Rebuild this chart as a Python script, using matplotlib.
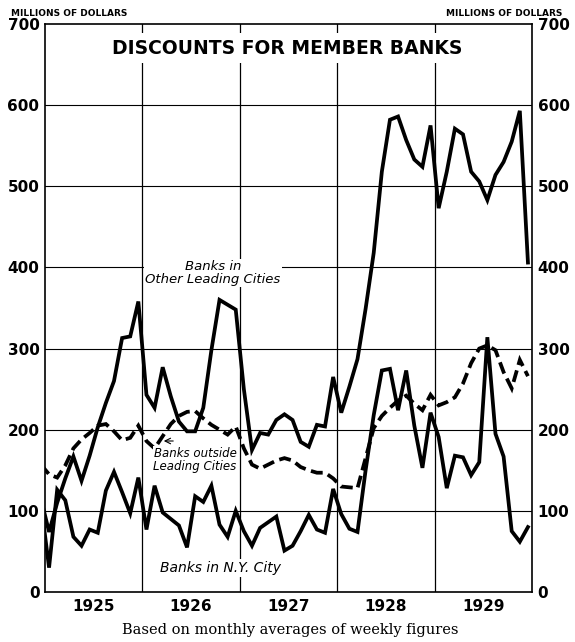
import matplotlib
matplotlib.use('Agg')
import matplotlib.pyplot as plt
import numpy as np

years = [1925, 1926, 1927, 1928, 1929]
y_ticks = [0, 100, 200, 300, 400, 500, 600, 700]

# Monthly values, millions of dollars. First entry = Dec 1924 (only partly visible
# at the left edge), then Jan 1925 ... Dec 1929.
ny_city = [110,
           30, 126, 113, 68, 57, 77, 73, 125, 148, 123, 97, 141,
           77, 131, 98, 90, 82, 55, 118, 111, 131, 83, 68, 100,
           75, 57, 79, 86, 93, 51, 57, 75, 95, 77, 73, 127,
           96, 78, 74, 150, 218, 273, 275, 224, 273, 205, 153, 221,
           191, 128, 168, 166, 144, 160, 314, 195, 167, 75, 62, 80]
other_leading = [115,
                 74, 110, 140, 167, 137, 168, 203, 233, 260, 313, 315, 358,
                 243, 227, 277, 241, 210, 198, 198, 227, 298, 360, 354, 348,
                 250, 175, 196, 194, 212, 219, 212, 185, 179, 206, 204, 265,
                 221, 253, 287, 349, 418, 518, 582, 586, 557, 533, 524, 575,
                 473, 518, 571, 564, 518, 506, 483, 514, 530, 555, 593, 406]
outside_leading = [157,
                   145, 141, 156, 177, 188, 196, 205, 207, 198, 187, 190, 205,
                   186, 177, 192, 207, 217, 222, 223, 214, 206, 200, 194, 204,
                   177, 157, 152, 157, 162, 165, 162, 154, 150, 147, 147, 140,
                   130, 129, 128, 165, 202, 217, 227, 236, 242, 232, 224, 243,
                   230, 234, 240, 257, 282, 300, 304, 298, 271, 251, 286, 266]

months = np.arange(-1, 60) + 0.5  # month centres, 0 = start of 1925

W, H = 575, 642
fig = plt.figure(figsize=(W / 100, H / 100), dpi=100)
L, R, T, B = 45, 532, 24, 592
ax = fig.add_axes([L / W, 1 - B / H, (R - L) / W, (B - T) / H])
ax.set_xlim(0, 60)
ax.set_ylim(0, 700)

for yv in y_ticks[1:-1]:
    ax.axhline(yv, color='black', lw=0.8, zorder=1)
for k in range(1, len(years)):
    ax.axvline(12 * k, color='black', lw=0.9, zorder=1)

line_kw = dict(color='black', lw=2.7, solid_joinstyle='miter', zorder=3)
ax.plot(months, other_leading, **line_kw)
ax.plot(months, ny_city, **line_kw)
ax.plot(months, outside_leading, color='black', lw=2.7, ls=(0, (3.2, 1.5)),
        dash_joinstyle='miter', zorder=3)

ax.set_yticks(y_ticks)
ax.set_yticklabels([str(v) for v in y_ticks])
ax.tick_params(axis='y', length=0, labelleft=True, labelright=True,
               labelsize=11, pad=4)
ax.set_xticks([12 * k + 6 for k in range(len(years))])
ax.set_xticklabels([str(y) for y in years])
ax.tick_params(axis='x', length=0, labelsize=11, pad=5)
for lab in ax.get_yticklabels() + ax.get_xticklabels():
    lab.set_fontweight('bold')
for s in ax.spines.values():
    s.set_linewidth(1.2)

def px(xp, yp):
    return ((xp - L) / (R - L), (B - yp) / (B - T))

# title inside the plot
ax.text(*px(287, 48), 'DISCOUNTS FOR MEMBER BANKS', transform=ax.transAxes,
        ha='center', va='center', fontsize=13.5, fontweight='bold',
        bbox=dict(facecolor='white', edgecolor='none', pad=4), zorder=4)

fig.text(11 / W, 1 - 13 / H, 'MILLIONS OF DOLLARS', fontsize=6.5,
         fontweight='bold', ha='left', va='center')
fig.text(562 / W, 1 - 13 / H, 'MILLIONS OF DOLLARS', fontsize=6.5,
         fontweight='bold', ha='right', va='center')

lab_kw = dict(transform=ax.transAxes, ha='center', va='center',
              style='italic', zorder=4)
ax.text(*px(213, 273), 'Banks in\nOther Leading Cities', fontsize=9.5,
        linespacing=1.0, bbox=dict(facecolor='white', edgecolor='none', pad=1),
        **lab_kw)
ax.text(*px(195, 460), 'Banks outside\nLeading Cities', fontsize=8.5,
        linespacing=1.0, bbox=dict(facecolor='white', edgecolor='none', pad=0.5),
        **lab_kw)
ax.text(*px(221, 568), 'Banks in N.Y. City', fontsize=10,
        bbox=dict(facecolor='white', edgecolor='none', pad=1.5), **lab_kw)
ax.annotate('', xy=px(161, 441), xytext=px(176, 441), xycoords='axes fraction',
            textcoords='axes fraction',
            arrowprops=dict(arrowstyle='->', lw=0.8, color='black'), zorder=4)

fig.text(290 / W, 1 - 630 / H, 'Based on monthly averages of weekly figures',
         fontsize=10.5, family='DejaVu Serif', ha='center', va='center')

fig.savefig('out.png', dpi=100)
